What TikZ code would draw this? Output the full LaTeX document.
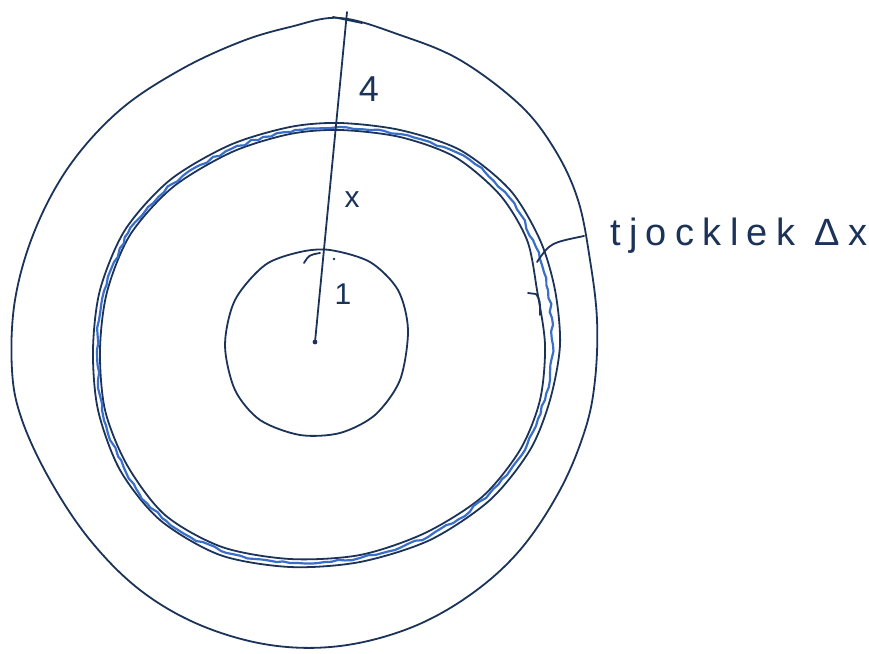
\documentclass[tikz,border=0pt]{standalone}
\usepackage{fontspec}
\setmainfont{Liberation Sans}
\newfontfamily\handfont[LetterSpace=22]{Liberation Sans}
\usepackage{tikz}
\usetikzlibrary{decorations.pathmorphing}
\definecolor{ink}{RGB}{27,51,88}
\definecolor{blueink}{RGB}{58,111,201}

\begin{document}
\begin{tikzpicture}[
    x=1pt, y=-1pt,
    pen/.style={draw=ink, line width=1.8pt, line cap=round, line join=round},
    bluepen/.style={draw=blueink, line width=2.2pt, line cap=round, line join=round},
    lbl/.style={text=ink, inner sep=0pt, font=\fontsize{30}{32}\selectfont}
]
\useasboundingbox (0,0) rectangle (869,653);
\pgfmathsetseed{7}

% outer blob
\draw[pen] plot[smooth cycle, tension=0.6] coordinates {
    (340,18) (400,35) (460,60) (520,105) (555,150) (578,200) (590,260)
    (597,320) (595,380) (585,430) (560,490) (520,550) (470,595) (410,628)
    (340,646) (270,645) (200,625) (140,590) (90,540) (50,480) (22,420)
    (12,370) (15,300) (35,230) (70,165) (120,110) (180,70) (240,42) (290,27)};

% ring, two lines
\draw[pen] plot[smooth cycle] coordinates {
    (340,123) (400,130) (460,150) (510,190) (540,240) (555,290) (560,345)
    (550,400) (530,450) (490,500) (430,540) (360,562) (290,567) (220,555)
    (160,520) (120,470) (98,410) (93,350) (100,290) (125,230) (170,180)
    (230,145) (290,127)};
\draw[pen] plot[smooth cycle] coordinates {
    (340,130) (400,137) (455,157) (500,195) (527,240) (537,290) (545,345)
    (540,400) (520,450) (482,497) (425,533) (360,555) (290,559) (222,547)
    (165,515) (127,465) (105,410) (100,350) (107,292) (130,235) (173,187)
    (232,152) (290,134)};

% blue wavy line
\draw[bluepen, decorate, decoration={random steps, segment length=7pt, amplitude=1.4pt}]
    (340,127) -- (370,130) -- (400,134) -- (430,142) -- (458,153) -- (484,171)
    -- (505,192) -- (521,215) -- (533,240) -- (542,265) -- (548,290)
    -- (552,318) -- (553,345) -- (550,373) -- (545,400) -- (536,426)
    -- (525,450) -- (507,475) -- (486,498) -- (459,519) -- (428,537)
    -- (395,550) -- (360,558) -- (325,562) -- (290,563) -- (255,559)
    -- (221,551) -- (190,537) -- (162,518) -- (140,495) -- (124,468)
    -- (110,440) -- (102,410) -- (98,380) -- (97,350) -- (99,320)
    -- (104,291) -- (114,262) -- (128,233) -- (148,207) -- (172,184)
    -- (200,165) -- (231,149) -- (263,137) -- (295,130) -- cycle;

% inner circle
\draw[pen] plot[smooth cycle] coordinates {
    (330,250) (370,262) (398,290) (408,330) (400,380) (375,415) (340,433)
    (300,435) (260,420) (235,390) (225,345) (235,300) (265,265) (300,252)};

% radius and marks
\coordinate (centre) at (315,342);
\coordinate (top) at (347,12);
\fill[ink] (centre) circle (2.4pt);
\draw[pen] (centre) -- (top);
\draw[pen] (333,17) -- (362,23);
\draw[pen] (304,263) .. controls (309,255) .. (320,253);
\fill[ink] (334,259) circle (1.4pt);
\draw[pen] (528,293) -- (536,294) .. controls (540,300) .. (540,315);

% labels
\node[lbl, font=\fontsize{36}{38}\selectfont] (four) at (369,89) {4};
\node[lbl] (ex) at (352,200) {x};
\node[lbl] (one) at (343,294) {1};
\node[lbl, anchor=west, font=\handfont\fontsize{38}{40}\selectfont] (thick) at (610,236) {tjocklek Δx};

% leader
\coordinate (ringpt) at (537,262);
\coordinate (blobpt) at (584,236);
\draw[pen] (ringpt) .. controls (550,243) .. (blobpt);
\end{tikzpicture}
\end{document}
